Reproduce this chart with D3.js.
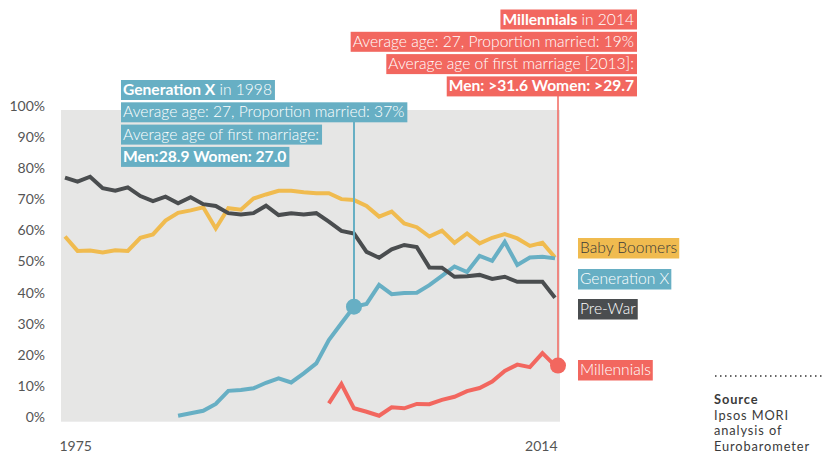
<!DOCTYPE html>
<html>
  <head>
    <meta charset="utf-8">
    <title>Proportion married by generation</title>
    <style type="text/css">
     html, body {
       margin: 0;
       padding: 0;
       background: #fff;
     }
     svg text {
       font-family: Lato, sans-serif;
     }
     .axis text {
       font-size: 14px;
       font-weight: 400;
       fill: #555;
     }
     .axis .domain {
       display: none;
     }
    </style>
  </head>
  <body>
    <svg width="823" height="453"></svg>
    <script src="https://cdn.jsdelivr.net/npm/d3@7"></script>
    <script>
     // survey years and share married (%) per generation, null = not yet adult
     var years = [1975, 1976, 1977, 1978, 1979, 1980, 1981, 1982, 1983, 1984,
                  1985, 1986, 1987, 1988, 1989, 1990, 1991, 1992, 1993, 1994,
                  1995, 1996, 1997, 1998, 1999, 2000, 2001, 2002, 2003, 2004,
                  2005, 2006, 2007, 2008, 2009, 2010, 2011, 2012, 2013, 2014];

     var preWar = [78.3, 77.0, 78.6, 74.9, 74.1, 75.2, 72.4, 70.8, 72.2, 70.1,
                   72.0, 69.8, 69.2, 66.9, 66.5, 66.9, 69.3, 66.3, 66.9, 66.5,
                   66.9, 64.2, 61.2, 60.4, 54.5, 52.6, 55.3, 56.7, 56.0, 49.5,
                   49.4, 46.5, 46.7, 47.1, 45.8, 46.5, 44.9, 44.9, 44.9, 39.8];

     var babyBoomers = [59.4, 54.8, 54.9, 54.3, 55.0, 54.8, 59.0, 60.1, 64.5, 67.0,
                        67.8, 68.8, 62.0, 68.5, 68.0, 71.6, 72.9, 74.1, 74.1, 73.6,
                        73.3, 73.3, 71.4, 71.1, 69.2, 65.8, 67.4, 63.6, 62.4, 59.4,
                        61.3, 57.4, 60.4, 57.2, 59.0, 60.2, 58.8, 56.4, 57.4, 52.7];

     var genX = [null, null, null, null, null, null, null, null, null, 1.9,
                 2.7, 3.5, 5.7, 9.9, 10.2, 10.7, 12.5, 13.9, 12.6, 15.5,
                 18.7, 26.2, 31.6, 36.9, 37.8, 43.9, 40.9, 41.3, 41.4, 43.8,
                 46.8, 49.8, 48.0, 53.2, 51.6, 57.7, 50.3, 52.7, 52.9, 52.4];

     var millennials = [null, null, null, null, null, null, null, null, null, null,
                        null, null, null, null, null, null, null, null, null, null,
                        null, 5.9, 12.1, 4.3, 3.2, 1.9, 4.6, 4.3, 5.7, 5.6,
                        7.0, 8.0, 9.8, 10.8, 12.9, 16.3, 18.3, 17.5, 22.0, 18.0];

     var yTicks = [0, 10, 20, 30, 40, 50, 60, 70, 80, 90, 100];
     var xTicks = [1975, 2014];

     var series = [
       {name: "Baby Boomers", values: babyBoomers, color: "#f0bb4f", text: "#3a3a3a", labelY: 238},
       {name: "Generation X", values: genX, color: "#67afc4", text: "#fff", labelY: 269},
       {name: "Pre-War", values: preWar, color: "#4a4d4f", text: "#fff", labelY: 299},
       {name: "Millennials", values: millennials, color: "#f2675f", text: "#fff", labelY: 360}
     ];

     var svg = d3.select("svg");

     var x = d3.scaleLinear().domain([1975, 2014]).range([65, 555]);
     var y = d3.scaleLinear().domain([0, 100]).range([421.7, 110]);

     svg.append("rect")
        .attr("x", 61)
        .attr("y", y(100))
        .attr("width", 499)
        .attr("height", y(0) - y(100))
        .attr("fill", "#e6e6e5");

     // y axis, label baseline sits on the value
     var yAxis = svg.append("g")
                    .attr("class", "axis")
                    .attr("transform", "translate(48,0)")
                    .call(d3.axisLeft(y).tickValues(yTicks)
                            .tickFormat(function(d) { return d + "%"; })
                            .tickSize(0).tickPadding(3));
     yAxis.selectAll("text").attr("dy", "0");

     var xAxis = svg.append("g")
                    .attr("class", "axis")
                    .attr("transform", "translate(0,441)")
                    .call(d3.axisBottom(x).tickValues(xTicks)
                            .tickFormat(d3.format("d"))
                            .tickSize(0).tickPadding(0));
     xAxis.selectAll("text")
          .attr("dy", "0.71em")
          .attr("text-anchor", function(d, i) { return i == 0 ? "start" : "end"; })
          .attr("dx", function(d, i) { return i == 0 ? -6 : 2; });

     var line = d3.line()
                  .defined(function(d) { return d != null; })
                  .x(function(d, i) { return x(years[i]); })
                  .y(function(d) { return y(d); });

     svg.append("g")
        .selectAll("path")
        .data(series)
        .enter()
        .append("path")
        .attr("d", function(d) { return line(d.values); })
        .attr("fill", "none")
        .attr("stroke", function(d) { return d.color; })
        .attr("stroke-width", 4);

     // callouts
     function callout(rows, ax, top, align, color) {
       var g = svg.append("g");
       rows.forEach(function(row, i) {
         var rg = g.append("g");
         var rect = rg.append("rect").attr("fill", color);
         var t = rg.append("text")
                   .attr("y", top + i * 22.3 + 15)
                   .attr("font-size", 15.6)
                   .attr("fill", "#fff");
         row.forEach(function(p) {
           t.append("tspan")
            .attr("font-weight", p.bold ? 700 : 300)
            .text(p.text);
         });
         var w = t.node().getComputedTextLength();
         var x0 = align == "left" ? ax + 2 : ax - 3 - w;
         t.attr("x", x0);
         rect.attr("x", x0 - 2)
             .attr("y", top + i * 22.3)
             .attr("width", w + 5)
             .attr("height", 20);
       });
     }

     var gx = x(1998), gy = y(genX[years.indexOf(1998)]);
     var mx = x(2014), my = y(millennials[years.indexOf(2014)]);

     svg.append("line")
        .attr("x1", gx).attr("x2", gx)
        .attr("y1", gy).attr("y2", 121)
        .attr("stroke", "#67afc4").attr("stroke-width", 2);
     svg.append("line")
        .attr("x1", mx + 3).attr("x2", mx + 3)
        .attr("y1", my).attr("y2", 94)
        .attr("stroke", "#f2675f").attr("stroke-width", 1.5);

     svg.append("circle").attr("cx", gx).attr("cy", gy).attr("r", 8).attr("fill", "#67afc4");
     svg.append("circle").attr("cx", mx + 3).attr("cy", my).attr("r", 8).attr("fill", "#f2675f");

     callout([
       [{text: "Generation X", bold: true}, {text: " in 1998"}],
       [{text: "Average age: 27, Proportion married: 37%"}],
       [{text: "Average age of first marriage:"}],
       [{text: "Men:28.9 Women: 27.0", bold: true}]
     ], 121, 80, "left", "#67afc4");

     callout([
       [{text: "Millennials", bold: true}, {text: " in 2014"}],
       [{text: "Average age: 27, Proportion married: 19%"}],
       [{text: "Average age of first marriage [2013]:"}],
       [{text: "Men: >31.6 Women: >29.7", bold: true}]
     ], 637, 9.5, "right", "#f2675f");

     // series labels
     var lab = svg.append("g")
                  .selectAll("g")
                  .data(series)
                  .enter()
                  .append("g");
     lab.append("rect").attr("fill", function(d) { return d.color; });
     lab.append("text")
        .attr("x", 580)
        .attr("y", function(d) { return d.labelY + 15; })
        .attr("font-size", 15.6)
        .attr("font-weight", 300)
        .attr("fill", function(d) { return d.text; })
        .text(function(d) { return d.name; });
     lab.each(function(d) {
       var w = d3.select(this).select("text").node().getComputedTextLength();
       d3.select(this).select("rect")
         .attr("x", 578).attr("y", d.labelY)
         .attr("width", w + 4).attr("height", 20.5);
     });

     // source
     svg.append("line")
        .attr("x1", 715).attr("x2", 823)
        .attr("y1", 376).attr("y2", 376)
        .attr("stroke", "#333").attr("stroke-width", 1.5)
        .attr("stroke-dasharray", "1.5,3.5");
     var srcLines = [{text: "Source", bold: true}, {text: "Ipsos MORI"},
                     {text: "analysis of"}, {text: "Eurobarometer"}];
     svg.append("g")
        .selectAll("text")
        .data(srcLines)
        .enter()
        .append("text")
        .attr("x", 714)
        .attr("y", function(d, i) { return 404 + i * 15.5; })
        .attr("font-size", 12.8)
        .attr("letter-spacing", 0.9)
        .attr("font-weight", function(d) { return d.bold ? 700 : 400; })
        .attr("fill", "#3a3a3a")
        .text(function(d) { return d.text; });
    </script>
  </body>
</html>
